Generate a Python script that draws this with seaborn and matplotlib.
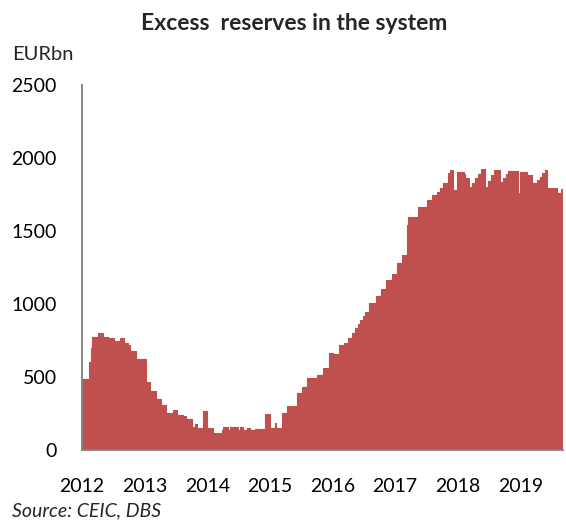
import matplotlib
matplotlib.use("Agg")
import matplotlib.pyplot as plt
import seaborn as sns
import pandas as pd

# Weekly excess reserves (EUR bn), start of each level change, as decimal years
years = [
    2012.000, 2012.104, 2012.136, 2012.167, 2012.255, 2012.335, 2012.415, 2012.510,
    2012.606, 2012.670, 2012.734, 2012.766, 2012.861,
    2013.021, 2013.085, 2013.180, 2013.260, 2013.340, 2013.451, 2013.515, 2013.611,
    2013.659, 2013.754, 2013.802, 2013.834, 2013.930, 2013.994,
    2014.089, 2014.233, 2014.249, 2014.329, 2014.360, 2014.488, 2014.520, 2014.568,
    2014.632, 2014.679, 2014.759, 2014.919, 2014.998,
    2015.078, 2015.094, 2015.190, 2015.270, 2015.429, 2015.509, 2015.589, 2015.748,
    2015.844, 2015.939,
    2016.003, 2016.099, 2016.179, 2016.242, 2016.306, 2016.354, 2016.402, 2016.434,
    2016.482, 2016.514, 2016.577, 2016.689, 2016.769, 2016.848, 2016.944,
    2017.024, 2017.104, 2017.183, 2017.199, 2017.359, 2017.439, 2017.455, 2017.502,
    2017.582, 2017.662, 2017.694, 2017.710, 2017.758, 2017.837, 2017.869, 2017.917,
    2017.981,
    2018.093, 2018.108, 2018.172, 2018.220, 2018.268, 2018.316, 2018.364, 2018.427,
    2018.475, 2018.523, 2018.571, 2018.667, 2018.715, 2018.762, 2018.794, 2018.954,
    2018.986,
    2019.113, 2019.193, 2019.257, 2019.305, 2019.352, 2019.400, 2019.432, 2019.544,
    2019.560, 2019.592, 2019.656, 2019.679,
]
reserves = [
    486, 600, 700, 774, 801, 774, 767, 747,
    767, 733, 719, 678, 623,
    466, 404, 349, 308, 255, 274, 240, 230,
    215, 158, 178, 151, 267, 151,
    116, 137, 158, 137, 158, 137, 158, 137,
    151, 137, 144, 245, 151,
    185, 151, 255, 300, 390, 432, 493, 514,
    562, 664,
    658, 719, 730, 767, 800, 836, 865, 890,
    920, 945, 1007, 1055, 1103, 1164, 1205,
    1281, 1336, 1541, 1596, 1664, 1610, 1664, 1712,
    1747, 1767, 1705, 1795, 1829, 1897, 1918, 1781,
    1904,
    1890, 1863, 1801, 1830, 1865, 1890, 1925, 1801,
    1845, 1885, 1918, 1836, 1860, 1890, 1911, 1760,
    1904,
    1884, 1829, 1850, 1870, 1895, 1920, 1795, 1770,
    1795, 1760, 1790, 1790,
]

year_ticks = [2012, 2013, 2014, 2015, 2016, 2017, 2018, 2019]
value_ticks = [0, 500, 1000, 1500, 2000, 2500]

FILL = "#C0504D"
AXIS = "#868686"

sns.set_style("white")
plt.rcParams["font.family"] = ["Lato", "DejaVu Sans"]

df = pd.DataFrame({"year": years, "reserves": reserves})

fig = plt.figure(figsize=(5.66, 5.24), dpi=100)
ax = fig.add_axes([82 / 566, 1 - 450 / 524, (563 - 82) / 566, (450 - 85) / 524])

ax.fill_between(df["year"], df["reserves"], step="post", color=FILL, linewidth=0)
sns.lineplot(data=df, x="year", y="reserves", drawstyle="steps-post",
             estimator=None, color=FILL, linewidth=0.8, ax=ax)

ax.set_xlim(2012.0, 2019.68)
ax.set_ylim(0, 2500)
ax.set_xticks(year_ticks)
ax.set_xticklabels([str(y) for y in year_ticks])
ax.set_yticks(value_ticks)
ax.set_xlabel("")
ax.set_ylabel("")

for side in ("top", "right"):
    ax.spines[side].set_visible(False)
for side in ("left", "bottom"):
    ax.spines[side].set_color(AXIS)
    ax.spines[side].set_linewidth(1.4)

ax.tick_params(axis="both", direction="out", length=5, width=1.4, color=AXIS,
               labelsize=14, labelcolor="black")
ax.tick_params(axis="y", pad=13)
ax.tick_params(axis="x", pad=15)

fig.text(0.52, 1 - 23 / 524, "Excess  reserves in the system", ha="center", va="center",
         fontsize=16.5, fontweight="bold")
fig.text(12 / 566, 1 - 54 / 524, "EURbn", ha="left", va="center", fontsize=14.5)
fig.text(12 / 566, 1 - 511 / 524, "Source: CEIC, DBS", ha="left", va="center",
         fontsize=14, fontstyle="italic")

fig.savefig("out.png", dpi=100)
